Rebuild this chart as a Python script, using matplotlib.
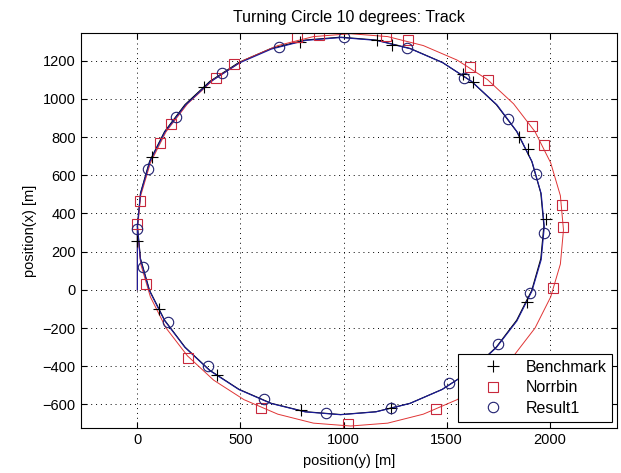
import matplotlib
matplotlib.use("Agg")
import matplotlib.pyplot as plt

plt.rcParams['font.family'] = ['Liberation Sans', 'DejaVu Sans']

# track lines: horizontal = position(y), vertical = position(x)
bench_y = [0, 0, 0, 0, 15, 59, 132, 231, 352, 493, 649, 814, 986, 1158, 1323, 1479, 1620,
           1741, 1840, 1913, 1957, 1972, 1957, 1913, 1840, 1741, 1620, 1479, 1323, 1158,
           986, 814, 649, 493, 352, 231, 132, 59, 15, 0]
bench_x = [0, 110, 220, 335, 507, 673, 829, 970, 1092, 1191, 1264, 1308, 1323, 1308, 1264,
           1191, 1092, 970, 829, 673, 507, 335, 163, -3, -159, -300, -422, -521, -594,
           -638, -653, -638, -594, -521, -422, -300, -159, -3, 163, 335]

norr_y = [0, 0, 0, 0, 16, 63, 139, 243, 370, 517, 681, 854, 1034, 1214, 1387, 1551, 1698,
          1825, 1929, 2005, 2052, 2067, 2052, 2005, 1929, 1825, 1698, 1551, 1387, 1214,
          1034, 854, 681, 517, 370, 243, 139, 63, 16, 0]
norr_x = [0, 105, 210, 314, 493, 665, 828, 974, 1101, 1203, 1279, 1326, 1341, 1326, 1279,
          1203, 1101, 974, 828, 665, 493, 314, 135, -37, -200, -346, -473, -575, -651,
          -698, -713, -698, -651, -575, -473, -346, -200, -37, 135, 314]

res_y = [0, 0, 0, 0, 15, 60, 133, 233, 354, 495, 651, 816, 988, 1160, 1325, 1482, 1623,
         1745, 1843, 1915, 1959, 1974, 1959, 1914, 1841, 1741, 1619, 1478, 1322, 1157,
         985, 813, 648, 492, 351, 230, 131, 58, 14, 0]
res_x = [0, 110, 220, 330, 503, 670, 826, 967, 1089, 1188, 1261, 1306, 1321, 1306, 1262,
         1189, 1090, 968, 826, 670, 503, 330, 158, -7, -163, -303, -424, -522, -595,
         -639, -654, -639, -595, -522, -423, -301, -160, -4, 162, 334]

# marker points
bench_my = [0, 70, 325, 788, 1161, 1234, 1578, 1630, 1853, 1893, 1980, 1891, 1232, 792, 385, 107]
bench_mx = [254, 696, 1064, 1300, 1308, 1282, 1129, 1090, 800, 739, 372, -63, -617, -628, -445, -101]

norr_my = [0, 13, 42, 110, 163, 380, 470, 772, 880, 1206, 1315, 1613, 1702, 1916, 1972,
           2061, 2066, 2017, 1447, 1022, 598, 247]
norr_mx = [343, 464, 30, 769, 870, 1111, 1181, 1322, 1335, 1329, 1308, 1169, 1099, 856, 756,
           443, 331, 12, -626, -704, -619, -356]

res_my = [-3, 29, 50, 187, 409, 688, 1003, 1307, 1584, 1799, 1932, 1972, 1906, 1749, 1512,
          1232, 914, 614, 344, 147]
res_mx = [320, 122, 633, 904, 1134, 1270, 1322, 1264, 1108, 894, 609, 296, -14, -283, -488,
          -617, -645, -570, -400, -167]

fig = plt.figure(figsize=(6.21, 4.73), dpi=100)
ax = fig.add_axes([0.130, 0.0945, 0.863, 0.835])

ax.plot(bench_y, bench_x, color='black', lw=0.8)
ax.plot(norr_y, norr_x, color='#e03535', lw=0.7)
ax.plot(res_y, res_x, color='#1c1c9c', lw=0.8)

ax.plot(bench_my, bench_mx, '+', color='black', ms=8, mew=0.8, label='Benchmark')
ax.plot(norr_my, norr_mx, 's', mfc='none', mec='#c8283c', ms=7.5, mew=0.8, label='Norrbin')
ax.plot(res_my, res_mx, 'o', mfc='none', mec='#202070', ms=7.5, mew=0.8, label='Result1')

ax.set_xlim(-275, 2325)
ax.set_ylim(-725, 1343)
ax.set_xticks([0, 500, 1000, 1500, 2000])
ax.set_yticks(range(-600, 1201, 200))
ax.tick_params(direction='in', length=4, top=True, right=True, labelsize=10.5, colors='black')
ax.grid(True, color='black', linestyle=(0, (1, 4)), lw=0.7)
for s in ax.spines.values():
    s.set_linewidth(0.8)

ax.set_title('Turning Circle 10 degrees: Track', fontsize=11.5, pad=8)
ax.set_xlabel('position(y) [m]', fontsize=10.5, labelpad=5)
ax.set_ylabel('position(x) [m]', fontsize=10.5, labelpad=4)

leg = ax.legend(loc='lower right', bbox_to_anchor=(0.992, 0.017), fontsize=11.5,
                frameon=True, fancybox=False, framealpha=1, edgecolor='black',
                borderpad=0.35, labelspacing=0.35, handlelength=3.7, handletextpad=0.2,
                borderaxespad=0)
leg.get_frame().set_linewidth(0.8)

fig.savefig('out.png', dpi=100)
